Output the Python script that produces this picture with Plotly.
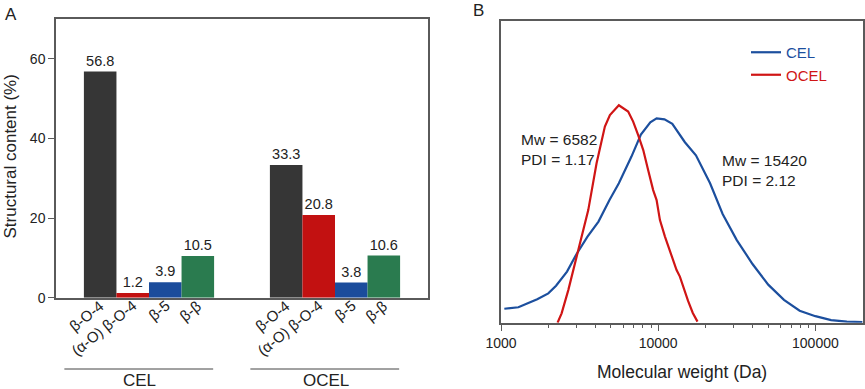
import plotly.graph_objects as go

# ---------------- data ----------------
groups = ["CEL", "OCEL"]
linkages = ["β-O-4", "(α-O) β-O-4", "β-5", "β-β"]
cel_content = [56.8, 1.2, 3.9, 10.5]
ocel_content = [33.3, 20.8, 3.8, 10.6]
bar_colors = ["#363636", "#c21111", "#1b4c9c", "#2a7b4f"]

mw_cel = [1050, 1290, 1480, 1700, 2000, 2240, 2630, 3020, 3550, 4170, 4900, 5620,
          6760, 7760, 8910, 9770, 10960, 12300, 14790, 17380, 21380, 25700, 31620,
          39810, 50120, 63100, 79430, 100000, 125900, 158500, 199500]
int_cel = [0.064, 0.071, 0.089, 0.108, 0.135, 0.170, 0.235, 0.315, 0.396, 0.465, 0.564,
           0.641, 0.764, 0.865, 0.922, 0.940, 0.935, 0.915, 0.83, 0.77, 0.641, 0.50,
           0.38, 0.27, 0.175, 0.105, 0.055, 0.03, 0.012, 0.005, 0.003]

mw_ocel = [2290, 2430, 2680, 2950, 3260, 3590, 4055, 4325, 4580, 4930, 5620, 6440,
           6930, 7460, 8035, 8630, 9290, 9770, 10260, 11040, 11860, 13090, 13740,
           14450, 15490, 16600, 17780]
int_ocel = [0.0, 0.043, 0.150, 0.273, 0.396, 0.518, 0.733, 0.825, 0.902, 0.955, 1.0,
            0.971, 0.925, 0.863, 0.794, 0.702, 0.610, 0.564, 0.472, 0.396, 0.334, 0.242,
            0.212, 0.16, 0.10, 0.045, 0.005]

mw_ticks = [1000, 10000, 100000]
mw_ticktext = ["1000", "10000", "100000"]
mw_minor = [m * k for m in (1000, 10000) for k in range(2, 10)]

cel_color = "#1c4f9e"
ocel_color = "#d01515"
FONT = "Arial, Liberation Sans, sans-serif"
AXC = "#5a5a5a"

fig = go.Figure()

# ---------------- panel A ----------------
BARGAP = 0.3
for i, name in enumerate(linkages):
    fig.add_trace(go.Bar(
        x=groups, y=[cel_content[i], ocel_content[i]], name=name,
        marker=dict(color=bar_colors[i], line=dict(width=0)),
        text=[f"{v:.1f}" for v in (cel_content[i], ocel_content[i])],
        textposition="outside", textfont=dict(size=14.5, color="#222", family=FONT),
        cliponaxis=False, showlegend=False, xaxis="x", yaxis="y",
    ))

# ---------------- panel B ----------------
fig.add_trace(go.Scatter(
    x=mw_cel, y=int_cel, mode="lines",
    name=f'<span style="color:{cel_color}">CEL</span>',
    line=dict(color=cel_color, width=2.2), xaxis="x2", yaxis="y2"))
fig.add_trace(go.Scatter(
    x=mw_ocel, y=int_ocel, mode="lines",
    name=f'<span style="color:{ocel_color}">OCEL</span>',
    line=dict(color=ocel_color, width=2.2), xaxis="x2", yaxis="y2"))

W, H = 865, 389
def px(x): return x / W
def py(y): return (H - y) / H

annotations = []
bw = (1 - BARGAP) / len(linkages)
for g, grp in enumerate(groups):
    for i, name in enumerate(linkages):
        annotations.append(dict(
            x=g + (i - 1.5) * bw, y=py(294), xref="x", yref="paper",
            text=name, showarrow=False, textangle=-39, xanchor="right", yanchor="top",
            xshift=10, font=dict(size=15, color="#222", family=FONT)))
    annotations.append(dict(
        x=g - 0.05, y=py(380), xref="x", yref="paper", text=grp, showarrow=False,
        xanchor="center", yanchor="middle", font=dict(size=17, color="#222", family=FONT)))

annotations += [
    dict(x=px(3), y=py(14), xref="paper", yref="paper", text="A", showarrow=False,
         xanchor="left", yanchor="middle", font=dict(size=17, color="#222", family=FONT)),
    dict(x=px(471), y=py(10), xref="paper", yref="paper", text="B", showarrow=False,
         xanchor="left", yanchor="middle", font=dict(size=17, color="#222", family=FONT)),
    dict(x=px(9.5), y=py(157), xref="paper", yref="paper", text="Structural content (%)",
         showarrow=False, textangle=-90, xanchor="center", yanchor="middle",
         font=dict(size=17, color="#222", family=FONT)),
    dict(x=px(682), y=py(371.5), xref="paper", yref="paper", text="Molecular weight (Da)",
         showarrow=False, xanchor="center", yanchor="middle",
         font=dict(size=17.5, color="#222", family=FONT)),
    dict(x=px(519), y=py(129), xref="paper", yref="paper", text="Mw = 6582<br>PDI = 1.17",
         showarrow=False, xanchor="left", yanchor="top", align="left",
         font=dict(size=15.5, color="#222", family=FONT)),
    dict(x=px(720), y=py(150), xref="paper", yref="paper", text="Mw = 15420<br>PDI = 2.12",
         showarrow=False, xanchor="left", yanchor="top", align="left",
         font=dict(size=15.5, color="#222", family=FONT)),
]

shapes = []
for g in range(len(groups)):
    shapes.append(dict(type="line", xref="x", yref="paper", x0=g - 0.455, x1=g + 0.345,
                       y0=py(369), y1=py(369), line=dict(color="#444", width=1)))

fig.update_layout(
    width=W, height=H, margin=dict(l=0, r=0, t=0, b=0, autoexpand=False),
    paper_bgcolor="white", plot_bgcolor="white",
    font=dict(family=FONT, size=14, color="#222"),
    barmode="group", bargap=BARGAP, bargroupgap=0,
    xaxis=dict(domain=[px(56), px(428)], anchor="y", showline=True, mirror=True,
               linecolor=AXC, linewidth=1.5, ticks="", showticklabels=False,
               showgrid=False, zeroline=False, automargin=False),
    yaxis=dict(domain=[py(297.7), py(19)], anchor="x", range=[0, 70],
               tickvals=[0, 20, 40, 60], showline=True, mirror=True, linecolor=AXC,
               linewidth=1.5, ticks="outside", ticklen=6, tickwidth=1.2, tickcolor=AXC,
               showgrid=False, zeroline=False, tickfont=dict(size=14, color="#222"),
               automargin=False),
    xaxis2=dict(domain=[px(501), px(862.7)], anchor="y2", type="log",
                range=[3, 5.301], tickvals=mw_ticks, ticktext=mw_ticktext,
                ticks="outside", ticklen=6.5, tickwidth=1.2, tickcolor=AXC,
                minor=dict(tickvals=mw_minor, ticks="outside", ticklen=3.5,
                           tickwidth=1.2, tickcolor=AXC),
                showline=True, mirror=True, linecolor=AXC, linewidth=1.5,
                showgrid=False, zeroline=False, tickfont=dict(size=14, color="#222"),
                automargin=False),
    yaxis2=dict(domain=[py(322.7), py(20.7)], anchor="x2", range=[0, 1.389],
                showline=True, mirror=True, linecolor=AXC, linewidth=1.5,
                ticks="", showticklabels=False, showgrid=False, zeroline=False,
                automargin=False),
    legend=dict(x=px(746), y=py(36), xanchor="left", yanchor="top",
                bgcolor="rgba(0,0,0,0)", font=dict(size=15, family=FONT)),
    annotations=annotations, shapes=shapes,
)

fig.write_html("out.html", config={"displayModeBar": False},
               post_script="document.body.style.margin='0';")
